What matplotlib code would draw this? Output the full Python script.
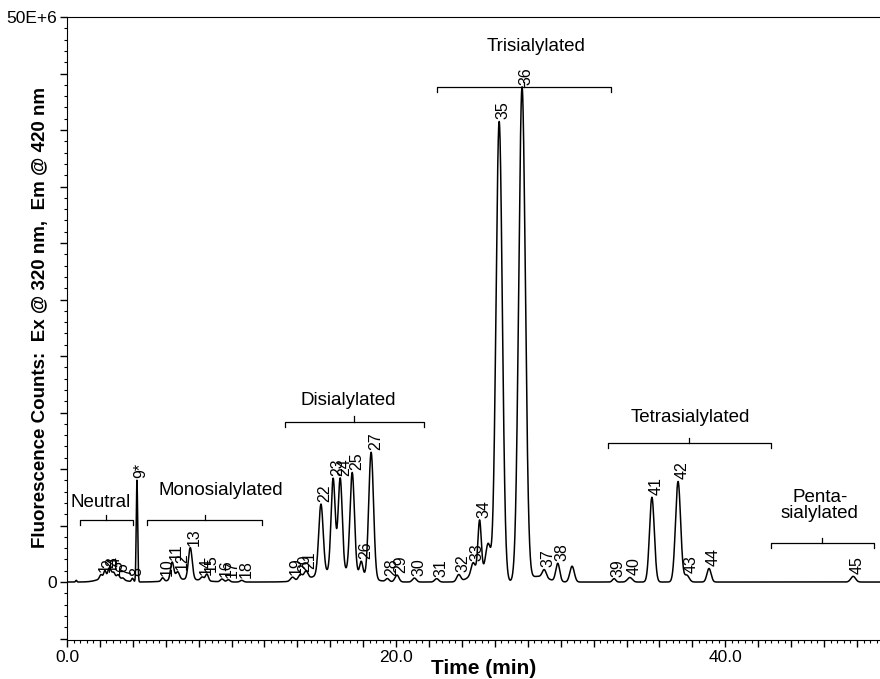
import numpy as np
import matplotlib
matplotlib.use("Agg")
import matplotlib.pyplot as plt
from matplotlib.ticker import MultipleLocator, FuncFormatter

plt.rcParams['font.family'] = ['Liberation Sans', 'DejaVu Sans']

# peak table: label, retention time (min), height (counts), width (min)
peak_labels = ["", "", "1", "2", "3", "4", "5", "6", "7", "8", "9*",
               "10", "11", "12", "13", "14", "15", "16", "17", "18", "",
               "19", "20", "21", "22", "23", "24", "25", "26", "27", "",
               "28", "29", "30", "31", "32", "33", "34", "", "", "35", "36",
               "37", "38", "", "",
               "39", "40", "41", "42", "43", "44", "45"]
peak_times = [0.56, 2.63, 2.06, 2.30, 2.54, 2.65, 2.83, 3.11, 3.40, 3.98, 4.25,
              5.81, 6.39, 6.72, 7.49, 8.22, 8.50, 9.42, 9.80, 10.62, 7.25,
              13.70, 14.18, 14.52, 15.43, 16.17, 16.60, 17.33, 17.88, 18.48, 16.49,
              19.47, 20.05, 21.11, 22.46, 23.80, 24.67, 25.07, 25.59, 25.15, 26.26, 27.65,
              29.00, 29.82, 30.69, 28.62,
              33.24, 34.20, 35.54, 37.13, 37.66, 39.01, 47.77]
peak_heights = [0.15e6, 0.5e6, 0.35e6, 0.6e6, 0.6e6, 0.4e6, 0.4e6, 0.3e6, 0.15e6, 0.3e6, 9.0e6,
                0.3e6, 1.6e6, 0.7e6, 2.8e6, 0.3e6, 0.6e6, 0.25e6, 0.2e6, 0.15e6, 0.25e6,
                0.35e6, 0.5e6, 0.7e6, 6.2e6, 8.2e6, 8.2e6, 8.9e6, 1.3e6, 11.2e6, 1.0e6,
                0.25e6, 0.6e6, 0.35e6, 0.3e6, 0.6e6, 1.0e6, 4.5e6, 2.6e6, 1.0e6, 40.6e6, 43.7e6,
                0.7e6, 1.6e6, 1.4e6, 0.5e6,
                0.3e6, 0.4e6, 7.5e6, 8.9e6, 0.6e6, 1.2e6, 0.5e6]
peak_widths = [0.04, 0.58, 0.08, 0.07, 0.07, 0.07, 0.08, 0.08, 0.08, 0.06, 0.043,
               0.08, 0.1, 0.11, 0.115, 0.1, 0.09, 0.1, 0.1, 0.1, 0.95,
               0.12, 0.12, 0.12, 0.135, 0.125, 0.125, 0.135, 0.1, 0.145, 1.25,
               0.1, 0.12, 0.12, 0.12, 0.12, 0.12, 0.1, 0.145, 0.58, 0.19, 0.2,
               0.12, 0.12, 0.135, 0.58,
               0.1, 0.145, 0.145, 0.155, 0.145, 0.125, 0.145]

# glycan class brackets: name, start, end, bracket level, label x, label y
groups = ["Neutral", "Monosialylated", "Disialylated", "Trisialylated",
          "Tetrasialylated", "Penta-\nsialylated"]
group_start = [0.80, 4.85, 13.22, 22.46, 32.85, 42.76]
group_end = [3.98, 11.87, 21.69, 33.04, 42.76, 49.02]
group_level = [5.5e6, 5.5e6, 14.2e6, 43.8e6, 12.3e6, 3.45e6]
group_label_x = [2.06, 9.32, 17.07, 28.52, 37.85, 45.75]
group_label_y = [7.0e6, 8.1e6, 16.1e6, 47.4e6, 14.6e6, 6.8e6]

t = np.linspace(0, 49.5, 6000)
signal = np.zeros_like(t)
for tc, h, w in zip(peak_times, peak_heights, peak_widths):
    signal += h * np.exp(-0.5 * ((t - tc) / w) ** 2)

fig = plt.figure(figsize=(8.8, 6.79), dpi=100)
ax = fig.add_axes([67 / 880, 1 - 640 / 679, 1 - 67 / 880, 623 / 679])
ax.plot(t, signal, color='black', lw=1.1)

for lab, tc in zip(peak_labels, peak_times):
    if not lab:
        continue
    near = np.abs(t - tc) < 0.06
    yv = signal[near].max()
    ax.annotate(lab, xy=(tc, yv), xytext=(3, 1.5), textcoords='offset points',
                rotation=90, ha='center', va='bottom', fontsize=11.5)

tick = 0.45e6
for name, x0, x1, yb, lx, ly in zip(groups, group_start, group_end, group_level,
                                    group_label_x, group_label_y):
    xm = (x0 + x1) / 2
    ax.plot([x0, x0, x1, x1], [yb - tick, yb, yb, yb - tick], color='black', lw=0.9)
    ax.plot([xm, xm], [yb, yb + tick], color='black', lw=0.9)
    ax.text(lx, ly, name, ha='center', va='center', fontsize=13.5,
            linespacing=0.95)

ax.set_xlim(0, 49.4)
ax.set_ylim(-5.13e6, 50e6)
ax.spines['right'].set_visible(False)

ax.xaxis.set_major_locator(MultipleLocator(2))
ax.xaxis.set_minor_locator(MultipleLocator(0.4))
ax.xaxis.set_major_formatter(FuncFormatter(
    lambda v, p: "%.1f" % v if abs(v % 20) < 1e-6 else ""))
ax.yaxis.set_major_locator(MultipleLocator(5e6))
ax.yaxis.set_minor_locator(MultipleLocator(1e6))
ax.yaxis.set_major_formatter(FuncFormatter(
    lambda v, p: "0" if abs(v) < 1 else ("50E+6" if abs(v - 50e6) < 1 else "")))
ax.tick_params(which='major', length=5, width=1, labelsize=12.5, pad=2)
ax.tick_params(which='minor', length=2, width=0.8)
ax.tick_params(top=False, right=False)

ax.set_xlabel("Time (min)", fontsize=15, fontweight='bold', va='center')
ax.xaxis.set_label_coords(0.512, -0.045)
ax.set_ylabel("Fluorescence Counts:  Ex @ 320 nm,  Em @ 420 nm",
              fontsize=13.5, fontweight='bold', va='center')
ax.yaxis.set_label_coords(-0.033, 0.517)

fig.savefig("out.png", dpi=100)
